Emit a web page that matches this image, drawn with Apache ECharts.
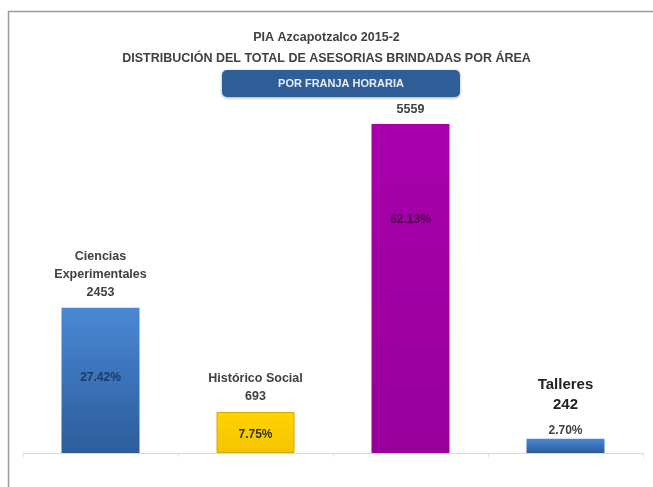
<!DOCTYPE html>
<html>
<head>
<meta charset="utf-8">
<script src="https://cdn.jsdelivr.net/npm/echarts@6/dist/echarts.min.js"></script>
<style>
  html, body { margin: 0; padding: 0; background: #fff; }
  #chart { width: 653px; height: 487px; }
</style>
</head>
<body>
<div id="chart"></div>
<script>
// datos
const categories = ['Ciencias\nExperimentales', 'Histórico Social', '', 'Talleres']
const asesorias = [2453, 693, 5559, 242]
const porcentajes = ['27.42%', '7.75%', '62.13%', '2.70%']

// estilos por barra
const barColors = [
  ['#4a88d4', '#2c5c9c'],
  ['#ffd400', '#f5c400'],
  ['#a800ac', '#98009c'],
  ['#4a88d4', '#2c5c9c']
]
const pctColors = ['#1f3864', '#333300', '#4a004a', '#404040']
const pctPos = [['50%', '48%'], ['50%', '55%'], ['50%', '29%'], 'top']

const font = '"Liberation Sans", Arial, sans-serif'

function grad(c) {
  return new echarts.graphic.LinearGradient(0, 0, 0, 1, [
    { offset: 0, color: c[0] },
    { offset: 1, color: c[1] }
  ])
}

const chart = echarts.init(document.getElementById('chart'))

const mainData = asesorias.map((v, i) => ({
  value: v,
  itemStyle: {
    color: grad(barColors[i]),
    borderColor: i === 1 ? '#d8a800' : 'rgba(0,0,0,0)',
    borderWidth: i === 1 ? 1 : 0
  },
  label: i === 3
    ? { fontSize: 15, color: '#222', lineHeight: 20, distance: 24 }
    : {}
}))

const pctData = asesorias.map((v, i) => ({
  value: v,
  label: {
    show: true,
    position: pctPos[i],
    distance: 2,
    align: i === 3 ? undefined : 'center',
    verticalAlign: i === 3 ? undefined : 'middle',
    formatter: porcentajes[i],
    color: pctColors[i],
    fontSize: 12,
    fontWeight: 'bold',
    fontFamily: font
  }
}))

chart.setOption({
  animation: false,
  title: {
    text: 'PIA Azcapotzalco 2015-2\nDISTRIBUCIÓN DEL TOTAL DE ASESORIAS BRINDADAS POR ÁREA',
    left: 'center',
    top: 22,
    textStyle: {
      fontSize: 12.5,
      fontWeight: 'bold',
      color: '#404040',
      lineHeight: 21,
      fontFamily: font
    }
  },
  graphic: [
    {
      type: 'rect',
      left: 6, top: 9,
      shape: { width: 700, height: 500 },
      style: { fill: 'none', stroke: '#9a9a9a', lineWidth: 1.5 },
      silent: true
    },
    {
      type: 'group',
      left: 222, top: 70,
      children: [
        {
          type: 'rect',
          shape: { width: 238, height: 27, r: 5 },
          style: {
            fill: '#2f5d98',
            shadowColor: 'rgba(0,0,0,0.35)',
            shadowBlur: 3,
            shadowOffsetY: 1
          }
        },
        {
          type: 'text',
          x: 119, y: 13.5,
          style: {
            text: 'POR FRANJA HORARIA',
            fill: '#e8eef8',
            font: 'bold 11px ' + font,
            align: 'center',
            verticalAlign: 'middle'
          }
        }
      ]
    }
  ],
  grid: { left: 23, right: 10, top: 98, bottom: 34 },
  xAxis: {
    type: 'category',
    data: categories,
    axisLine: { lineStyle: { color: '#d9d9d9', width: 1 } },
    axisTick: { show: true, length: 4, lineStyle: { color: '#e0e0e0' } },
    axisLabel: { show: false }
  },
  yAxis: {
    type: 'value',
    min: 0,
    max: 6000,
    show: false,
    splitLine: { show: false }
  },
  series: [
    {
      type: 'bar',
      barWidth: 78,
      data: mainData,
      label: {
        show: true,
        position: 'top',
        distance: 6,
        fontSize: 12.5,
        fontWeight: 'bold',
        color: '#404040',
        lineHeight: 18,
        fontFamily: font,
        formatter: p => (categories[p.dataIndex] ? categories[p.dataIndex] + '\n' : '') + p.value
      }
    },
    {
      type: 'bar',
      barWidth: 78,
      barGap: '-100%',
      itemStyle: { color: 'rgba(0,0,0,0)' },
      z: 3,
      data: pctData
    }
  ]
})
</script>
</body>
</html>
